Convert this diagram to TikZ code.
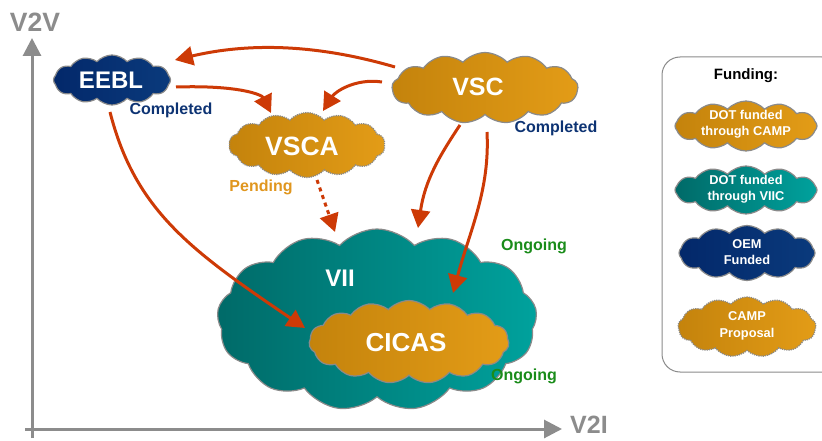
\documentclass[tikz,border=0pt]{standalone}
\usepackage{fontspec}
\setmainfont{Liberation Sans}
\usetikzlibrary{shapes.symbols,arrows.meta,calc}
\definecolor{orA}{HTML}{C4830C}
\definecolor{orB}{HTML}{E39C17}
\definecolor{tlA}{HTML}{006A68}
\definecolor{tlB}{HTML}{00A29D}
\definecolor{nvA}{HTML}{03286A}
\definecolor{nvB}{HTML}{0A3A7C}
\definecolor{outl}{HTML}{8A8A8A}
\definecolor{arr}{HTML}{CD3A06}
\definecolor{axisg}{HTML}{8C8C8C}
\definecolor{compl}{HTML}{0D3373}
\definecolor{pend}{HTML}{E0961E}
\definecolor{ongo}{HTML}{1A8C1A}
\tikzset{
  cloudbox/.style={cloud, cloud ignores aspect, cloud puff arc=95, draw=outl, line width=1.2pt, inner sep=0pt},
  orcloud/.style={cloudbox, left color=orA, right color=orB},
  tlcloud/.style={cloudbox, left color=tlA, right color=tlB},
  nvcloud/.style={cloudbox, left color=nvA, right color=nvB},
  dotcloud/.style={densely dotted, line width=1.3pt},
  bigtxt/.style={text=white, font=\bfseries\fontsize{24}{26}\selectfont, inner sep=0pt},
  legtxt/.style={text=white, font=\bfseries\fontsize{12.8}{16.5}\selectfont, align=center, inner sep=0pt},
  stattxt/.style={font=\bfseries\fontsize{16}{18}\selectfont, inner sep=0pt},
  conn/.style={draw=arr, line width=3pt, -{Triangle[length=18pt,width=19pt]}},
  axisline/.style={draw=axisg, line width=3pt, -{Triangle[length=18pt,width=18pt]}},
  axistxt/.style={text=axisg, font=\bfseries\fontsize{26.5}{28}\selectfont, inner sep=0pt}
}
\begin{document}
\begin{tikzpicture}[x=1pt,y=-1pt]
\useasboundingbox (0,0) rectangle (822,441);
% axes
\coordinate (o1) at (32,438);
\coordinate (vtip) at (32,38);
\coordinate (o2) at (25,429);
\coordinate (htip) at (562,429);
\draw[axisline] (o1) -- (vtip);
\draw[axisline] (o2) -- (htip);
\node[axistxt] (v2v) at (35,22) {V2V};
\node[axistxt, font=\bfseries\fontsize{25}{27}\selectfont] (v2i) at (589,425) {V2I};
% clouds
\node[tlcloud, cloud puffs=13, minimum width=320, minimum height=182] (vii) at (377,320) {};
\node[orcloud, cloud puffs=15, minimum width=200, minimum height=83] (cicas) at (409,342) {};
\node[orcloud, cloud puffs=13, minimum width=186, minimum height=71] (vsc) at (485,88) {};
\node[orcloud, dotcloud, cloud puffs=14, minimum width=156, minimum height=65] (vsca) at (307,145) {};
\node[nvcloud, cloud puffs=12, minimum width=117, minimum height=50] (eebl) at (112,80) {};
% cloud texts
\node[bigtxt] (viit) at (340,278) {VII};
\node[bigtxt, font=\bfseries\fontsize{26}{28}\selectfont] (cicast) at (406,343) {CICAS};
\node[bigtxt, font=\bfseries\fontsize{25}{27}\selectfont] (vsct) at (478,87) {VSC};
\node[bigtxt, font=\bfseries\fontsize{26.5}{28}\selectfont] (vscat) at (302,146) {VSCA};
\node[bigtxt, font=\bfseries\fontsize{24}{26}\selectfont] (eeblt) at (111,80) {EEBL};
% status
\node[stattxt, text=compl] (eeblst) at (171,110) {Completed};
\node[stattxt, text=compl] (vscst) at (556,128) {Completed};
\node[stattxt, text=pend] (vscast) at (261,187) {Pending};
\node[stattxt, text=ongo] (viist) at (534,246) {Ongoing};
\node[stattxt, text=ongo] (cicasst) at (524,376) {Ongoing};
% connectors
\draw[conn] ($(vsc)+(-90,-21)$) .. controls (330,48) and (260,40) .. ($(eebl)+(63,-20)$);
\draw[conn] ($(eebl)+(64,7)$) .. controls (240,85) and (262,95) .. ($(vsca)+(-36,-32)$);
\draw[conn] ($(vsc)+(-103,-6)$) .. controls (355,78) and (335,92) .. ($(vsca)+(16,-34)$);
\draw[conn, dash pattern=on 4pt off 4pt] ($(vsca)+(10,35)$) -- ($(vii)+(-42,-88)$);
\draw[conn] ($(vsc)+(-25,37)$) .. controls (440,155) and (425,180) .. ($(vii)+(41,-92)$);
\draw[conn] ($(vsc)+(2,44)$) .. controls (490,190) and (470,230) .. ($(cicas)+(44,-49)$);
\draw[conn] ($(eebl)+(-2,32)$) .. controls (135,210) and (190,250) .. ($(cicas)+(-104,-14)$);
% legend
\draw[draw=outl, line width=1pt, rounded corners=18pt] (662,57) rectangle (840,372);
\node[font=\bfseries\fontsize{15}{17}\selectfont, inner sep=0pt] (fund) at (746,76) {Funding:};
\node[orcloud, cloud puffs=12, minimum width=142, minimum height=50] (l1) at (746,126) {};
\node[legtxt] (l1t) at (746,124) {DOT funded\\through CAMP};
\node[tlcloud, cloud puffs=12, minimum width=142, minimum height=48] (l2) at (746,190) {};
\node[legtxt] (l2t) at (746,189) {DOT funded\\through VIIC};
\node[nvcloud, cloud puffs=12, minimum width=136, minimum height=55] (l3) at (747,253) {};
\node[legtxt] (l3t) at (747,252) {OEM\\Funded};
\node[orcloud, dotcloud, cloud puffs=13, minimum width=138, minimum height=60] (l4) at (747,327) {};
\node[legtxt] (l4t) at (747,326) {CAMP\\Proposal};
\end{tikzpicture}
\end{document}
